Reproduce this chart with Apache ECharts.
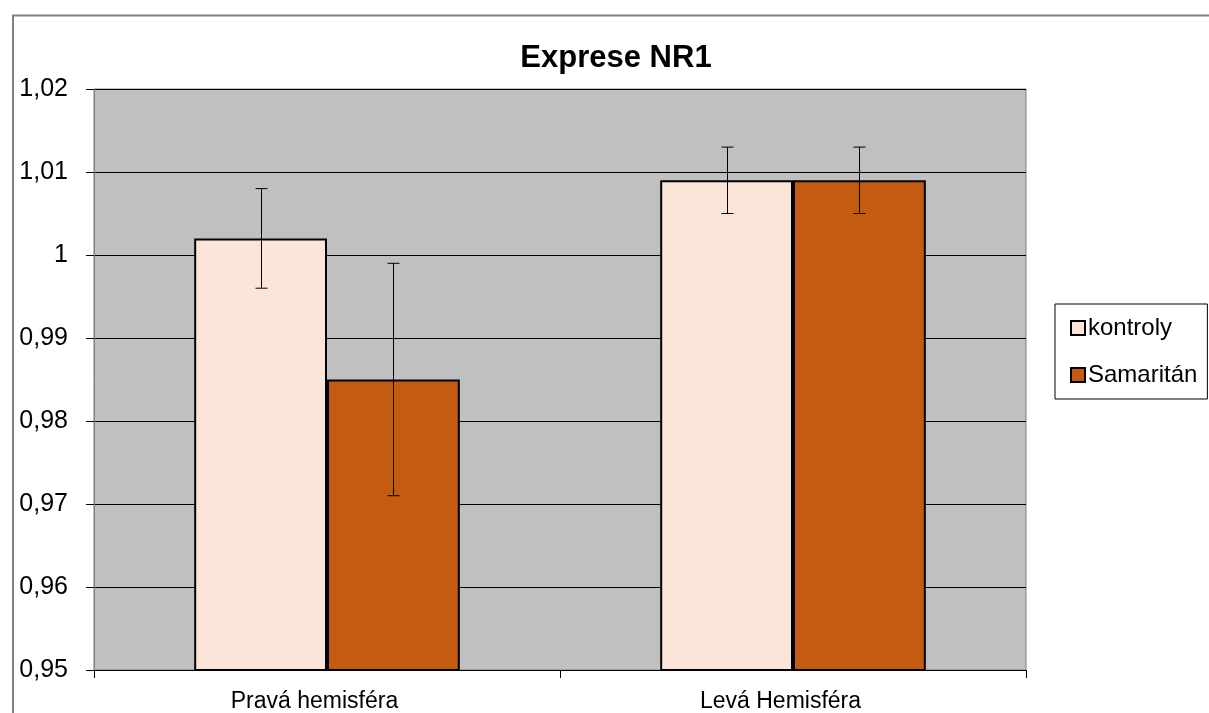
<!DOCTYPE html>
<html>
<head>
<meta charset="utf-8">
<script src="https://cdn.jsdelivr.net/npm/echarts@6/dist/echarts.min.js"></script>
<style>
html,body{margin:0;padding:0;background:#fff;}
#c{width:1209px;height:713px;}
</style>
</head>
<body>
<div id="c"></div>
<script>
const categories = ['Pravá hemisféra', 'Levá Hemisféra'];
const seriesNames = ['kontroly', 'Samaritán'];
const kontroly = [1.002, 1.009];
const samaritan = [0.985, 1.009];
const kontrolyErr = [0.006, 0.004];
const samaritanErr = [0.014, 0.004];
const yTicks = [0.95, 0.96, 0.97, 0.98, 0.99, 1.00, 1.01, 1.02];

const GAP = 0.43;
const FONT = 'Liberation Sans, Arial, sans-serif';

function errData(vals, errs) {
  return vals.map((v, i) => [i, v - errs[i], v + errs[i]]);
}
function errSeries(name, vals, errs, side) {
  return {
    type: 'custom',
    name: name + ' err',
    z: 10,
    silent: true,
    data: errData(vals, errs),
    encode: { x: 0, y: [1, 2] },
    renderItem: function (params, api) {
      const i = api.value(0);
      const lo = api.coord([i, api.value(1)]);
      const hi = api.coord([i, api.value(2)]);
      const band = api.size([1, 0])[0];
      const barW = band * (1 - GAP) / 2;
      const x = Math.round(lo[0] + side * barW / 2) + 0.5;
      const cap = 6;
      const st = { stroke: '#000', lineWidth: 1 };
      return {
        type: 'group',
        children: [
          { type: 'line', shape: { x1: x, y1: lo[1], x2: x, y2: hi[1] }, style: st },
          { type: 'line', shape: { x1: x - cap, y1: lo[1], x2: x + cap, y2: lo[1] }, style: st },
          { type: 'line', shape: { x1: x - cap, y1: hi[1], x2: x + cap, y2: hi[1] }, style: st }
        ]
      };
    }
  };
}

const chart = echarts.init(document.getElementById('c'), null, { renderer: 'canvas' });
chart.setOption({
  animation: false,
  backgroundColor: '#fff',
  textStyle: { fontFamily: FONT },
  graphic: [{
    type: 'rect', z: -10, silent: true,
    shape: { x: 13, y: 15.5, width: 1300, height: 800 },
    style: { fill: 'none', stroke: '#808080', lineWidth: 2 }
  }],
  title: {
    text: 'Exprese NR1',
    left: 611, top: 38, textAlign: 'center',
    textStyle: { fontFamily: FONT, fontSize: 31, fontWeight: 'bold', color: '#000' }
  },
  legend: {
    orient: 'vertical',
    left: 1055, top: 304,
    data: seriesNames,
    icon: 'rect',
    itemWidth: 14, itemHeight: 14,
    itemGap: 23,
    padding: [12, 10, 12, 15],
    borderColor: '#000', borderWidth: 1,
    backgroundColor: '#fff',
    textStyle: { fontFamily: FONT, fontSize: 24, color: '#000', padding: [0, 0, 0, -2] }
  },
  grid: {
    left: 94, right: 183, top: 89, bottom: 43,
    show: true, backgroundColor: '#C0C0C0', borderColor: '#808080', borderWidth: 1
  },
  xAxis: {
    type: 'category',
    data: categories,
    axisLine: { lineStyle: { color: '#000', width: 1 } },
    axisTick: { show: true, length: 8, lineStyle: { color: '#000' } },
    axisLabel: { fontFamily: FONT, fontSize: 23, color: '#000', margin: 20, padding: [0, 25, 0, 0] },
    splitLine: { show: false }
  },
  yAxis: {
    type: 'value',
    min: 0.95, max: 1.02, interval: 0.01,
    axisLine: { show: true, lineStyle: { color: '#808080', width: 1 } },
    axisTick: { show: true, length: 8, lineStyle: { color: '#000' } },
    axisLabel: {
      fontFamily: FONT, fontSize: 25, color: '#000', margin: 26,
      formatter: v => String(Number(v.toFixed(2))).replace('.', ',')
    },
    splitLine: { show: true, lineStyle: { color: '#000', width: 1 } }
  },
  series: [
    {
      name: seriesNames[0], type: 'bar', data: kontroly,
      barGap: '0%', barCategoryGap: (GAP * 100) + '%',
      itemStyle: { color: '#FAE5D8', borderColor: '#000', borderWidth: 2 }
    },
    {
      name: seriesNames[1], type: 'bar', data: samaritan,
      barGap: '0%', barCategoryGap: (GAP * 100) + '%',
      itemStyle: { color: '#C55A11', borderColor: '#000', borderWidth: 2 }
    },
    errSeries(seriesNames[0], kontroly, kontrolyErr, -1),
    errSeries(seriesNames[1], samaritan, samaritanErr, 1)
  ]
});
</script>
</body>
</html>
